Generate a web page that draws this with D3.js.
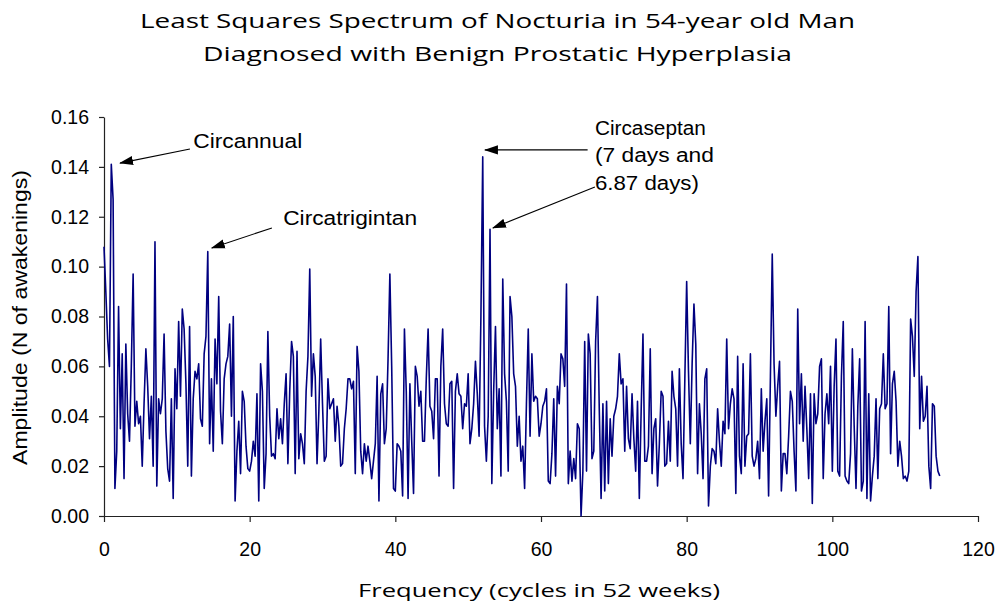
<!DOCTYPE html>
<html>
<head>
<meta charset="utf-8">
<script src="https://cdn.jsdelivr.net/npm/d3@7"></script>
<style>
  body { margin: 0; background: #fff; }
  svg { display: block; }
</style>
</head>
<body>
<svg id="chart" width="995" height="605"></svg>
<script>
// Least-squares spectrum: amplitude at each trial frequency (0 to 114.75 cycles, step 0.25)
const freqStep = 0.25;
const amplitude = [
  0.108, 0.090, 0.071, 0.060, 0.141, 0.127, 0.011, 0.026, 0.084, 0.035,
  0.065, 0.015, 0.069, 0.041, 0.030, 0.060, 0.097, 0.036, 0.046, 0.037,
  0.040, 0.020, 0.045, 0.067, 0.052, 0.031, 0.048, 0.020, 0.110, 0.012,
  0.047, 0.041, 0.047, 0.073, 0.034, 0.019, 0.014, 0.047, 0.007, 0.059,
  0.043, 0.078, 0.048, 0.083, 0.075, 0.053, 0.020, 0.076, 0.016, 0.047,
  0.058, 0.055, 0.061, 0.039, 0.036, 0.065, 0.072, 0.106, 0.029, 0.055,
  0.026, 0.071, 0.053, 0.088, 0.042, 0.029, 0.055, 0.061, 0.064, 0.077,
  0.040, 0.080, 0.006, 0.026, 0.038, 0.017, 0.050, 0.046, 0.028, 0.019,
  0.018, 0.022, 0.030, 0.024, 0.049, 0.006, 0.061, 0.050, 0.011, 0.025,
  0.074, 0.040, 0.024, 0.025, 0.023, 0.043, 0.031, 0.039, 0.029, 0.045,
  0.057, 0.021, 0.050, 0.070, 0.064, 0.017, 0.066, 0.023, 0.033, 0.029,
  0.021, 0.050, 0.064, 0.099, 0.048, 0.065, 0.056, 0.021, 0.042, 0.071,
  0.045, 0.022, 0.024, 0.055, 0.043, 0.045, 0.047, 0.030, 0.044, 0.036,
  0.020, 0.021, 0.035, 0.043, 0.055, 0.055, 0.051, 0.054, 0.017, 0.068,
  0.058, 0.026, 0.017, 0.029, 0.022, 0.028, 0.022, 0.015, 0.022, 0.029,
  0.056, 0.006, 0.049, 0.053, 0.029, 0.035, 0.063, 0.097, 0.060, 0.011,
  0.010, 0.029, 0.028, 0.026, 0.008, 0.075, 0.050, 0.007, 0.053, 0.030,
  0.009, 0.060, 0.056, 0.044, 0.050, 0.030, 0.030, 0.055, 0.075, 0.044,
  0.042, 0.031, 0.055, 0.055, 0.016, 0.060, 0.075, 0.045, 0.037, 0.036,
  0.053, 0.054, 0.011, 0.050, 0.057, 0.049, 0.048, 0.035, 0.045, 0.044,
  0.057, 0.029, 0.035, 0.045, 0.062, 0.049, 0.032, 0.080, 0.144, 0.036,
  0.022, 0.040, 0.115, 0.013, 0.050, 0.076, 0.035, 0.051, 0.016, 0.095,
  0.057, 0.046, 0.018, 0.088, 0.080, 0.057, 0.052, 0.028, 0.040, 0.022,
  0.028, 0.011, 0.045, 0.075, 0.032, 0.065, 0.046, 0.048, 0.047, 0.032,
  0.037, 0.044, 0.046, 0.051, 0.014, 0.013, 0.025, 0.047, 0.016, 0.052,
  0.045, 0.065, 0.063, 0.052, 0.093, 0.013, 0.026, 0.014, 0.023, 0.015,
  0.037, 0.035, 0.000, 0.018, 0.070, 0.018, 0.073, 0.065, 0.023, 0.026,
  0.070, 0.088, 0.043, 0.007, 0.045, 0.010, 0.046, 0.013, 0.039, 0.024,
  0.040, 0.043, 0.048, 0.065, 0.053, 0.055, 0.026, 0.052, 0.031, 0.027,
  0.049, 0.031, 0.018, 0.046, 0.007, 0.042, 0.073, 0.022, 0.022, 0.028,
  0.067, 0.017, 0.035, 0.039, 0.012, 0.029, 0.050, 0.048, 0.020, 0.021,
  0.038, 0.022, 0.058, 0.048, 0.043, 0.020, 0.059, 0.029, 0.015, 0.055,
  0.094, 0.058, 0.029, 0.061, 0.085, 0.069, 0.017, 0.045, 0.033, 0.015,
  0.055, 0.059, 0.004, 0.020, 0.027, 0.026, 0.021, 0.043, 0.030, 0.020,
  0.038, 0.033, 0.071, 0.035, 0.045, 0.051, 0.047, 0.009, 0.064, 0.024,
  0.017, 0.061, 0.020, 0.032, 0.033, 0.065, 0.024, 0.020, 0.023, 0.030,
  0.015, 0.051, 0.026, 0.038, 0.047, 0.008, 0.056, 0.105, 0.061, 0.040,
  0.052, 0.062, 0.010, 0.025, 0.025, 0.017, 0.032, 0.050, 0.046, 0.026,
  0.010, 0.083, 0.037, 0.057, 0.030, 0.052, 0.035, 0.015, 0.049, 0.005,
  0.049, 0.037, 0.041, 0.060, 0.063, 0.015, 0.041, 0.049, 0.037, 0.060,
  0.018, 0.052, 0.071, 0.018, 0.016, 0.056, 0.078, 0.016, 0.014, 0.013,
  0.025, 0.067, 0.036, 0.011, 0.044, 0.063, 0.010, 0.014, 0.078, 0.007,
  0.049, 0.006, 0.016, 0.024, 0.047, 0.015, 0.043, 0.045, 0.065, 0.043,
  0.045, 0.084, 0.025, 0.053, 0.058, 0.046, 0.020, 0.030, 0.024, 0.015,
  0.016, 0.014, 0.018, 0.079, 0.072, 0.056, 0.090, 0.104, 0.035, 0.056,
  0.038, 0.040, 0.052, 0.020, 0.011, 0.045, 0.044, 0.024, 0.018, 0.016
];

const xTicks = [0, 20, 40, 60, 80, 100, 120];
const yTicks = [0, 0.02, 0.04, 0.06, 0.08, 0.10, 0.12, 0.14, 0.16];

const titleLines = [
  "Least Squares Spectrum of Nocturia in 54-year old Man",
  "Diagnosed with Benign Prostatic Hyperplasia"
];
const xTitle = "Frequency (cycles in 52 weeks)";
const yTitle = "Amplitude (N of awakenings)";
const rhythmNames = ["Circannual", "Circatrigintan"];
const septanLines = ["Circaseptan", "(7 days and", "6.87 days)"];

// ---------------------------------------------------------------------------
const svg = d3.select("#chart");
const plot = { left: 104, right: 978, top: 117, bottom: 516 };

const x = d3.scaleLinear().domain([0, 120]).range([plot.left, plot.right]);
const y = d3.scaleLinear().domain([0, 0.16]).range([plot.bottom, plot.top]);

const series = amplitude.map((v, i) => ({ f: i * freqStep, a: v }));

const tickFont = "'Liberation Sans', Arial, sans-serif";
const titleFont = "'Open Sans', 'Noto Sans', sans-serif";

// stretch a text element to a given width
function fit(sel, w) {
  sel.attr("textLength", w).attr("lengthAdjust", "spacingAndGlyphs");
}

// Axes
const yAxis = svg.append("g")
  .attr("transform", `translate(${plot.left},0)`)
  .call(d3.axisLeft(y).tickValues(yTicks).tickFormat(d3.format(".2f"))
        .tickSize(5).tickSizeOuter(0).tickPadding(10));

const xAxis = svg.append("g")
  .attr("transform", `translate(0,${plot.bottom})`)
  .call(d3.axisBottom(x).tickValues(xTicks).tickFormat(d3.format("d"))
        .tickSize(6).tickSizeOuter(0).tickPadding(20));

[yAxis, xAxis].forEach(g => {
  g.select(".domain").attr("stroke", "#222").attr("stroke-width", 1.2);
  g.selectAll(".tick line").attr("stroke", "#222").attr("stroke-width", 1.2);
  g.selectAll(".tick text")
    .attr("fill", "#000")
    .style("font-family", tickFont)
    .style("font-size", "19.5px");
});

// Spectrum line
svg.append("path")
  .datum(series)
  .attr("fill", "none")
  .attr("stroke", "#000080")
  .attr("stroke-width", 1.6)
  .attr("stroke-linejoin", "round")
  .attr("d", d3.line().x(d => x(d.f)).y(d => y(d.a)));

// Titles
const title = svg.append("g")
  .style("font-family", titleFont)
  .style("font-size", "20px")
  .attr("fill", "#000");
title.append("text").attr("x", 497.5).attr("y", 28).attr("text-anchor", "middle")
  .text(titleLines[0]).call(fit, 715);
title.append("text").attr("x", 497.5).attr("y", 61).attr("text-anchor", "middle")
  .text(titleLines[1]).call(fit, 589);

svg.append("text")
  .attr("x", 539).attr("y", 597).attr("text-anchor", "middle")
  .style("font-family", titleFont).style("font-size", "19px")
  .text(xTitle).call(fit, 362);

svg.append("text")
  .attr("transform", "translate(27,317.5) rotate(-90)")
  .attr("text-anchor", "middle")
  .style("font-family", tickFont).style("font-size", "19.5px")
  .text(yTitle).call(fit, 295);

// Arrow annotations
svg.append("defs").append("marker")
  .attr("id", "head")
  .attr("viewBox", "0 -5 14 10")
  .attr("refX", 13).attr("refY", 0)
  .attr("markerUnits", "userSpaceOnUse")
  .attr("markerWidth", 14).attr("markerHeight", 10)
  .attr("orient", "auto")
  .append("path").attr("d", "M0,-4.6L14,0L0,4.6Z").attr("fill", "#000");

function arrow(f0, a0, f1, a1) {
  svg.append("line")
    .attr("x1", x(f0)).attr("y1", y(a0))
    .attr("x2", x(f1)).attr("y2", y(a1))
    .attr("stroke", "#000").attr("stroke-width", 1.1)
    .attr("marker-end", "url(#head)");
}

arrow(11.8, 0.1472, 2.2, 0.1415);     // annual peak
arrow(23.05, 0.1155, 14.8, 0.1075);   // 30-day peak
arrow(66.4, 0.1468, 52.3, 0.1468);    // 7-day peak
arrow(67.4, 0.1319, 53.4, 0.1155);    // 6.87-day peak

const note = svg.append("g")
  .style("font-family", tickFont).style("font-size", "19.5px").attr("fill", "#000");
note.append("text").attr("x", x(12.25)).attr("y", y(0.1476)).text(rhythmNames[0]).call(fit, 109);
note.append("text").attr("x", x(24.6)).attr("y", y(0.1167)).text(rhythmNames[1]).call(fit, 134);
const septanBase = [0.1528, 0.1419, 0.1307];
const septanW = [111, 119, 104];
septanLines.forEach((t, i) => {
  note.append("text").attr("x", x(67.4)).attr("y", y(septanBase[i])).text(t).call(fit, septanW[i]);
});
</script>
</body>
</html>
